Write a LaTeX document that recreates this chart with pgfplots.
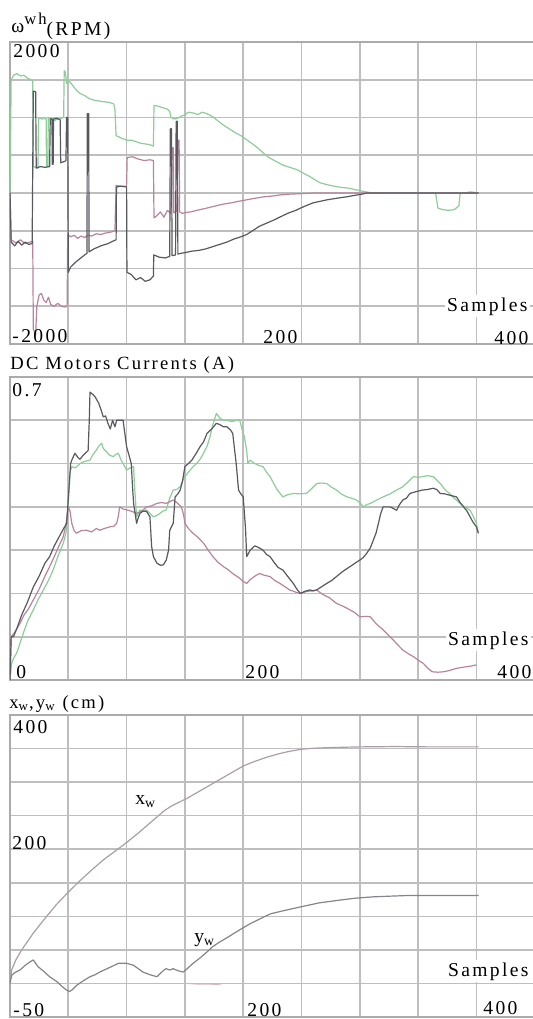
\documentclass[border=0pt]{standalone}
\usepackage{pgfplots}
\pgfplotsset{compat=1.18}
\usepackage{fontspec}
\setmainfont{Liberation Serif}[LetterSpace=12]
\definecolor{gridc}{RGB}{190,190,190}
\definecolor{gr}{RGB}{140,205,152}
\definecolor{dk}{RGB}{88,88,96}
\definecolor{pk}{RGB}{185,132,155}
\definecolor{xwc}{RGB}{170,158,168}
\definecolor{ywc}{RGB}{132,132,138}
\pgfplotsset{panel/.style={scale only axis, width=262pt, height=151pt,
  xmin=0, xmax=449.4, xtick={0,50,...,450}, xticklabels={}, yticklabels={},
  major tick length=0pt, grid=major, grid style={gridc, line width=0.8pt},
  axis line style={gridc!90!black, line width=0.9pt}, anchor=north west,
  every axis plot/.append style={line width=0.6pt, line join=round}}}
\newcommand{\lab}{\fontsize{9.8}{11}\selectfont}
\newcommand{\ttl}{\fontsize{9.3}{11}\selectfont}
\begin{document}
\begin{tikzpicture}
\useasboundingbox (0,0) rectangle (266pt,-509.5pt);
% ---------------- Panel 1 ----------------
\begin{axis}[panel, at={(5pt,-21pt)}, ymin=-2000, ymax=2000, ytick={-2000,-1500,...,2000}]
\addplot[gr] coordinates {(0,0)(1,1500)(3,1560)(6,1580)(9,1550)(12,1560)(15,1520)(18,1500)(19.5,1480)(20,350)(22,340)(24,330)(24.5,990)(28,980)(31,990)(31.3,350)(32.5,350)(32.8,990)(36,990)(38,960)(41,980)(44,990)(46,1000)(46.5,1620)(47.5,1600)(48.5,1450)(51,1480)(54,1420)(57,1360)(60,1320)(64,1290)(68,1250)(72,1230)(76,1220)(80,1210)(85,1200)(89,1180)(90,1100)(91,760)(95,730)(100,700)(104,700)(108,680)(112,660)(116,650)(120,640)(123,620)(123.5,1160)(127,1150)(131,1130)(135,1110)(137,1080)(138,1000)(141,980)(144,990)(147,1020)(150,1035)(153,1070)(157,1060)(161,1040)(165,1070)(169,1050)(174,1010)(178,960)(183,900)(188,850)(193,800)(198,760)(203,705)(208,650)(213,590)(218,520)(222,470)(228,420)(234,370)(240,340)(246,310)(252,260)(258,210)(262,170)(266,135)(272,110)(278,90)(284,75)(290,65)(296,45)(302,25)(307,10)(311,0)(330,0)(350,0)(365,0)(367,-200)(371,-220)(376,-230)(381,-220)(385,-170)(386,-10)(390,0)(395,15)(402,0)};
\addplot[pk] coordinates {(0,0)(1,-620)(5,-660)(9,-620)(13,-670)(17,-650)(19.5,-640)(20,-1800)(22,-1880)(23,-1500)(25,-1350)(27,-1330)(29,-1420)(31,-1450)(33,-1380)(35,-1480)(38,-1500)(41,-1460)(44,-1500)(47,-1510)(49,-1500)(49.5,-550)(52,-580)(55,-560)(58,-600)(61,-570)(64,-590)(67,-560)(70,-570)(74,-540)(78,-550)(82,-530)(86,-520)(90,-500)(91,100)(95,90)(100,90)(100.5,470)(105,480)(110,450)(115,430)(120,440)(123,430)(123.5,-330)(126,-300)(129,-250)(132,-320)(135,-230)(138,-270)(139,600)(140,600)(140.5,-260)(143,-240)(144,700)(145,700)(145.5,-250)(148,-270)(150,-260)(155,-250)(160,-230)(166,-210)(174,-180)(182,-150)(190,-130)(196,-110)(203,-90)(210,-70)(218,-50)(225,-40)(232,-25)(240,-15)(248,-10)(255,-5)(260,0)(300,0)(350,0)(402,0)};
\addplot[dk] coordinates {(0,0)(1,-650)(4,-700)(7,-640)(10,-690)(13,-650)(16,-680)(19,-670)(20,1350)(22,1340)(22.5,330)(26,350)(30,340)(34,350)(34.5,980)(36,980)(36.3,380)(37,380)(37.3,980)(40,990)(43,970)(43.5,400)(47,420)(48,430)(48.5,1000)(49.5,1000)(50,-1050)(52,-980)(56,-920)(60,-870)(64,-820)(66,-800)(66.3,1050)(67.5,1050)(67.8,-780)(72,-740)(78,-700)(84,-670)(88,-640)(91,-620)(91.3,80)(95,90)(100,80)(100.3,-1050)(104,-1080)(108,-1150)(112,-1120)(116,-1170)(120,-1150)(123,-1100)(123.3,-820)(128,-850)(133,-860)(137,-840)(137.5,850)(138.5,850)(139,-830)(142,-820)(142.5,950)(143.5,950)(144,-810)(146,-800)(150,-790)(156,-770)(162,-760)(168,-740)(174,-710)(180,-680)(186,-650)(192,-610)(198,-580)(203,-550)(208,-500)(214,-440)(220,-400)(226,-360)(232,-315)(238,-270)(245,-230)(252,-180)(260,-130)(266,-110)(272,-90)(280,-70)(289,-50)(296,-30)(302,-15)(306,0)(330,0)(360,0)(402,0)};
\end{axis}
% ---------------- Panel 2 ----------------
\begin{axis}[panel, at={(5pt,-188.5pt)}, height=151.5pt, ymin=0, ymax=0.7, ytick={0,0.1,0.2,0.3,0.4,0.5,0.6,0.7}]
\addplot[gr] coordinates {(0,0)(1.4,0.038)(3,0.05)(5.7,0.062)(8,0.08)(11.4,0.108)(15,0.135)(20,0.162)(24,0.185)(28.6,0.208)(33,0.23)(37,0.254)(41,0.285)(45.7,0.316)(48,0.34)(50,0.408)(51.5,0.48)(53,0.493)(56,0.49)(60,0.5)(64,0.505)(68.6,0.508)(71,0.52)(74,0.531)(76,0.54)(78.6,0.547)(80,0.535)(82.9,0.527)(85,0.52)(88.6,0.516)(90,0.52)(92.9,0.524)(95,0.51)(97,0.5)(100,0.485)(103,0.49)(106,0.493)(107,0.44)(108.6,0.377)(111.5,0.393)(114,0.39)(117,0.393)(120,0.385)(123,0.377)(126,0.38)(128.6,0.385)(131,0.39)(134,0.393)(137,0.42)(140,0.439)(143,0.44)(146,0.447)(148,0.46)(150,0.47)(153,0.48)(157,0.493)(160,0.5)(163,0.51)(166,0.524)(169,0.54)(171.5,0.562)(174,0.59)(177,0.616)(180,0.605)(183,0.6)(186,0.6)(189,0.598)(191,0.597)(194,0.6)(197,0.6)(199,0.58)(201,0.562)(203,0.53)(204,0.5)(205.8,0.508)(210,0.5)(214,0.495)(217,0.493)(220,0.48)(223,0.47)(226,0.455)(229,0.44)(232,0.43)(234,0.423)(238,0.428)(243,0.431)(248,0.43)(254,0.431)(258,0.44)(263,0.454)(267,0.455)(271.6,0.454)(276,0.445)(280,0.439)(284,0.43)(289,0.423)(293,0.42)(297,0.416)(300,0.41)(303,0.4)(306,0.405)(309,0.408)(314,0.415)(320,0.423)(326,0.43)(331.6,0.439)(336,0.445)(340,0.454)(343,0.462)(346,0.47)(350,0.468)(354,0.47)(358,0.472)(363,0.47)(366,0.462)(369,0.454)(373,0.44)(377,0.431)(381,0.42)(386,0.408)(390,0.4)(394.6,0.392)(397,0.38)(400,0.362)(401.7,0.339)};
\addplot[pk] coordinates {(0,0)(1,0.1)(4,0.11)(8.6,0.131)(12,0.15)(16,0.165)(20,0.185)(25,0.21)(30,0.24)(34,0.262)(38,0.285)(42,0.31)(45.7,0.331)(48,0.36)(50,0.4)(51.5,0.39)(53,0.362)(55,0.345)(57,0.339)(61,0.345)(65.7,0.346)(70,0.342)(74,0.35)(77,0.346)(81,0.35)(85.8,0.354)(89,0.355)(91.5,0.362)(93,0.38)(94,0.4)(97,0.395)(100,0.393)(104,0.39)(108.6,0.385)(113,0.39)(117,0.4)(121,0.402)(126,0.408)(130,0.41)(134,0.408)(137,0.412)(140,0.416)(143,0.41)(147,0.4)(149,0.38)(150,0.362)(153,0.35)(157,0.339)(161,0.33)(166,0.316)(170,0.3)(174,0.285)(178,0.273)(183,0.262)(187,0.255)(191,0.246)(196,0.237)(200,0.228)(203,0.223)(206,0.232)(210,0.24)(214,0.246)(218,0.242)(223,0.239)(227,0.23)(231.6,0.223)(236,0.215)(240,0.208)(245,0.203)(249,0.2)(255,0.205)(260,0.206)(263,0.208)(268,0.198)(274,0.19)(280,0.177)(286,0.17)(291.6,0.162)(296,0.155)(300,0.146)(305,0.147)(309,0.146)(314,0.13)(320,0.116)(324,0.105)(328.8,0.092)(333,0.08)(337,0.069)(342,0.06)(346,0.054)(350,0.046)(354.6,0.038)(358,0.028)(362,0.019)(367,0.018)(372,0.019)(377,0.022)(383,0.027)(390,0.03)(395,0.032)(400,0.035)};
\addplot[dk] coordinates {(0,0)(1,0.1)(3,0.1)(6,0.12)(10,0.15)(15,0.18)(20,0.215)(25,0.24)(30,0.27)(34,0.285)(38,0.31)(42,0.33)(46,0.35)(48.6,0.362)(50,0.42)(52,0.5)(53,0.508)(55.7,0.524)(58,0.515)(60,0.51)(63,0.52)(67,0.53)(68,0.6)(68.6,0.665)(71,0.66)(73,0.654)(76,0.64)(78,0.625)(80,0.608)(82,0.61)(84,0.593)(86,0.58)(88,0.6)(90,0.585)(91.5,0.6)(94,0.6)(97,0.6)(100,0.539)(102,0.52)(104,0.5)(105,0.45)(106,0.408)(108.6,0.362)(110,0.375)(111.5,0.385)(114,0.39)(117,0.39)(120,0.377)(121.5,0.308)(123,0.285)(126,0.27)(129,0.265)(131.5,0.266)(134,0.277)(136,0.3)(137,0.346)(140,0.362)(141.6,0.423)(144,0.43)(146,0.439)(148,0.46)(150,0.493)(153,0.5)(156,0.508)(160,0.525)(163,0.539)(166,0.55)(169,0.57)(173,0.58)(177,0.593)(180,0.59)(183,0.585)(186,0.585)(189,0.578)(191,0.57)(194,0.5)(196,0.439)(198,0.43)(200,0.423)(202,0.35)(203,0.285)(206,0.3)(210,0.31)(214,0.305)(217,0.3)(220,0.29)(223,0.285)(227,0.27)(230,0.26)(234,0.254)(238,0.24)(243,0.223)(246,0.21)(249,0.2)(253,0.205)(257,0.208)(260,0.206)(263,0.208)(267,0.215)(271.6,0.223)(276,0.23)(280,0.239)(285,0.25)(291.6,0.262)(296,0.27)(300,0.277)(303,0.283)(306,0.293)(309,0.305)(311.6,0.323)(314,0.34)(316,0.362)(318,0.385)(320,0.4)(323,0.4)(326,0.4)(329,0.396)(331.6,0.392)(334,0.405)(337,0.416)(340,0.42)(343,0.431)(348,0.435)(354,0.439)(358,0.44)(363,0.443)(366,0.44)(369,0.431)(373,0.43)(377,0.427)(380,0.425)(383,0.423)(386,0.41)(389,0.4)(392,0.39)(394.6,0.377)(397,0.365)(400,0.354)(401.7,0.339)};
\end{axis}
% ---------------- Panel 3 ----------------
\begin{axis}[panel, at={(5pt,-357.5pt)}, ymin=-50, ymax=400, ytick={-50,0,...,400}]
\addplot[xwc] coordinates {(0,0)(1.4,20)(5,35)(10,50)(20,75)(30,97)(40,118)(50,136)(60,153)(70,169)(80,184)(90,197)(100,210)(110,224)(120,239)(126,248)(132,257)(138,264)(145,270)(152,276)(160,284)(170,294)(180,304)(190,314)(200,324)(210,331)(220,337)(230,342)(240,346)(250,349)(260,350.5)(275,351.5)(300,352.5)(330,353)(360,352.5)(402,352.5)};
\addplot[ywc] coordinates {(0,0)(1.4,12)(4,16)(8.6,20)(13,27)(17,32)(20,35)(22,30)(24,25)(29,18)(34,10)(40,3)(45,-5)(48.6,-10)(51,-12)(53,-10)(57,-3)(62,3)(68.6,10)(73,13)(77,17)(82,21)(87,25)(93,30)(97,30)(100,30)(106,27)(110,22)(114,17)(120,13)(126,10)(129,15)(132,20)(134,22)(137,20)(140,22)(144,19)(148.6,17)(152,22)(157,30)(163,38)(169,47)(174,55)(180,62)(186,68)(191.5,74)(199,82)(206,89)(213,95)(220,101)(224,104)(236,109)(249,114)(265,120)(282,124)(296,127)(311,129)(325,130)(341,131)(370,131)(402,131)};
\addplot[pk!60, line width=0.4pt] coordinates {(150,0)(160,-1)(170,-1)(181,-2)};
\end{axis}
% ---------------- texts ----------------
\begin{scope}[x=0.5pt,y=-0.5pt, every node/.style={inner sep=0pt, font=\lab}]
\node[anchor=base west] at (11,35) {\raisebox{1.5pt}{ω}\raisebox{5.5pt}{\fontsize{8.3}{9}\selectfont wh}(RPM)};
\node[anchor=base west] at (13,57) {2000};
\node[anchor=base west] at (12,342) {-2000};
\node[anchor=base west] at (263,343) {200};
\node[anchor=base west] at (494,344) {400};
\node[anchor=base east, fill=white, inner sep=1pt] at (530,311) {Samples};
\node[anchor=base west, font=\ttl] at (10,369) {DC Motors Currents (A)};
\node[anchor=base west] at (12,396) {0.7};
\node[anchor=base west] at (16,678) {0};
\node[anchor=base west] at (245,678) {200};
\node[anchor=base west] at (497,678) {400};
\node[anchor=base east, fill=white, inner sep=1pt] at (531,645) {Samples};
\node[anchor=base west, font=\ttl] at (9,708) {x\textsubscript{w},y\textsubscript{w} (cm)};
\node[anchor=base west] at (13,733) {400};
\node[anchor=base west] at (12,849) {200};
\node[anchor=base west] at (13,1016) {-50};
\node[anchor=base west] at (247,1016) {200};
\node[anchor=base west] at (483,1014) {400};
\node[anchor=base east, fill=white, inner sep=1pt] at (531,976) {Samples};
\node[anchor=base west] at (135,804) {x\textsubscript{w}};
\node[anchor=base west] at (194,942) {y\textsubscript{w}};
\end{scope}
\end{tikzpicture}
\end{document}
